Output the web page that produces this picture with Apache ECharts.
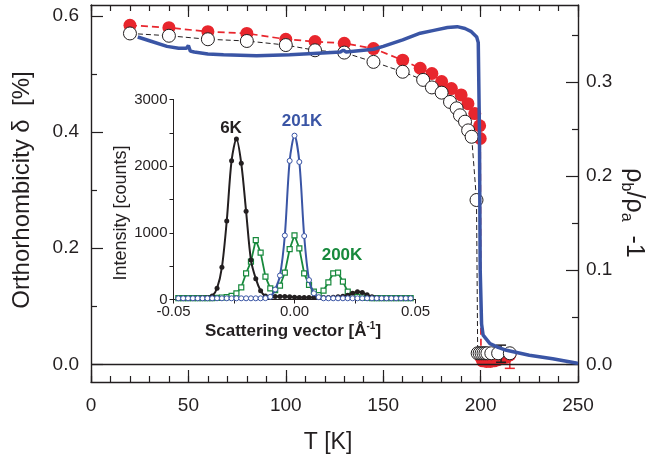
<!DOCTYPE html>
<html lang="en">
<head>
    <meta charset="UTF-8">
    <title>Orthorhombicity and resistivity anisotropy</title>
    <script src="https://cdn.jsdelivr.net/npm/echarts@6/dist/echarts.min.js"></script>
</head>
<body style="margin:0">
<div id="main" style="width:660px;height:459px;"></div>
<script>
    // main panel, left axis: orthorhombicity delta [%]
    var redT = [20, 40, 60, 80, 100, 115, 130, 145, 160, 169, 175, 180, 185, 190, 193.5, 197, 199.5, 199.8, 200.2, 201, 203, 205, 207, 209, 211, 213, 215];
    var redD = [0.584, 0.580, 0.573, 0.570, 0.560, 0.556, 0.553, 0.544, 0.524, 0.510, 0.501, 0.487, 0.475, 0.464, 0.449, 0.432, 0.411, 0.389, 0.012, 0.006, 0.005, 0.005, 0.006, 0.008, 0.010, 0.012, 0.016];
    var whiteT = [20, 40, 60, 80, 100, 115, 130, 145, 160, 170.5, 175, 180, 184.3, 187.7, 189.4, 192, 193.6, 195.4, 197.9, 198.5, 199.5, 200.5, 201.5, 202.5, 203.5, 205.5, 209, 215];
    var whiteD = [0.570, 0.566, 0.560, 0.557, 0.550, 0.541, 0.537, 0.521, 0.504, 0.490, 0.477, 0.468, 0.452, 0.441, 0.429, 0.418, 0.403, 0.392, 0.283, 0.019, 0.019, 0.019, 0.019, 0.019, 0.019, 0.019, 0.019, 0.019];
    // error bars near T ~ 210 K: [T, low, high]
    var whiteErr = [[210.5, 0.0035, 0.033]];
    var redErr = [[215, -0.007, 0.016]];
    // main panel, right axis: rho_b/rho_a - 1
    var blueT = [24, 30, 39, 45, 49, 50, 51, 53, 60, 68, 85, 102, 119, 128, 129.5, 131, 145, 150, 160, 169, 176, 183, 188, 192, 195, 198, 198.8, 199.4, 199.8, 200.5, 201.3, 204.8, 209, 213.3, 225, 237, 249, 250];
    var blueR = [0.348, 0.344, 0.338, 0.336, 0.336, 0.339, 0.333, 0.332, 0.330, 0.329, 0.328, 0.329, 0.331, 0.332, 0.334, 0.332, 0.335, 0.338, 0.345, 0.352, 0.355, 0.358, 0.359, 0.357, 0.354, 0.348, 0.342, 0.25, 0.10, 0.043, 0.031, 0.022, 0.018, 0.0149, 0.0096, 0.006, 0.0014, 0.001];

    // inset: scattering vector [1/A] vs intensity [counts]
    var q = [-0.048, -0.046, -0.044, -0.042, -0.040, -0.038, -0.036, -0.034, -0.032, -0.030,
        -0.028, -0.026, -0.024, -0.022, -0.020, -0.018, -0.016, -0.014, -0.012, -0.010,
        -0.008, -0.006, -0.004, -0.002, 0.000, 0.002, 0.004, 0.006, 0.008, 0.010,
        0.012, 0.014, 0.016, 0.018, 0.020, 0.022, 0.024, 0.026, 0.028, 0.030,
        0.032, 0.034, 0.036, 0.038, 0.040, 0.042, 0.044, 0.046, 0.048];
    var i6K = [20, 20, 20, 20, 22, 25, 30, 52, 168, 482,
        1177, 2082, 2408, 2043, 1322, 592, 313, 132, 52, 40,
        45, 45, 45, 40, 35, 30, 30, 30, 30, 30,
        30, 30, 35, 40, 50, 65, 95, 115, 105, 70,
        40, 25, 20, 20, 20, 20, 20, 20, 20];
    var i201K = [18, 18, 18, 18, 18, 18, 18, 18, 18, 18,
        18, 18, 18, 18, 18, 18, 18, 18, 20, 40,
        150, 360, 960, 2080, 2458, 2063, 952, 292, 93, 35,
        18, 18, 18, 18, 18, 18, 18, 18, 18, 18,
        18, 18, 18, 18, 18, 18, 18, 18, 18];
    var i200K = [20, 20, 20, 20, 20, 20, 20, 20, 25, 30,
        35, 55, 93, 183, 393, 568, 892, 703, 343, 168,
        140, 207, 402, 757, 963, 768, 393, 218, 117, 67,
        132, 258, 393, 402, 267, 117, 67, 40, 30, 25,
        20, 20, 20, 20, 20, 20, 20, 20, 20];

    var ink = '#231f20';
    var red = '#e8262d';
    var blue = '#3a55a5';
    var green = '#17893c';
    var font = '"Liberation Sans", Arial, sans-serif';

    function zip(xs, ys) {
        return xs.map(function (x, i) { return [x, ys[i]]; });
    }

    function tick(len, inside, values) {
        var t = {show: true, inside: inside, length: len, lineStyle: {color: ink, width: 1.2}};
        if (values) t.customValues = values;
        return t;
    }

    // vertical bar with short caps, drawn from [T, low, high]
    function errBar(color) {
        return function (params, api) {
            var lo = api.coord([api.value(0), api.value(1)]);
            var hi = api.coord([api.value(0), api.value(2)]);
            var st = {stroke: color, lineWidth: 1.5};
            return {
                type: 'group',
                children: [
                    {type: 'line', shape: {x1: lo[0], y1: lo[1], x2: hi[0], y2: hi[1]}, style: st},
                    {type: 'line', shape: {x1: lo[0] - 5, y1: lo[1], x2: lo[0] + 5, y2: lo[1]}, style: st},
                    {type: 'line', shape: {x1: hi[0] - 5, y1: hi[1], x2: hi[0] + 5, y2: hi[1]}, style: st}
                ]
            };
        };
    }

    var lbl = {color: ink, fontSize: 19, fontFamily: font};
    var noLine = {show: false, onZero: false};
    var frame = {show: true, onZero: false, lineStyle: {color: ink, width: 1.4}};
    var thin = {show: true, onZero: false, lineStyle: {color: ink, width: 1}};

    var myChart = echarts.init(document.getElementById('main'), null, {renderer: 'canvas'});

    var option = {
        backgroundColor: '#fff',
        animation: false,
        grid: [
            {left: 91, right: 82, top: 5, bottom: 77},
            {left: 173.5, top: 99.5, width: 242, height: 200}
        ],
        xAxis: [
            {gridIndex: 0, type: 'value', position: 'bottom', min: 0, max: 250, interval: 50,
                axisLine: frame, axisTick: tick(12, true),
                axisLabel: Object.assign({margin: 14}, lbl), splitLine: noLine},
            {gridIndex: 0, type: 'value', position: 'bottom', min: 0, max: 250, interval: 10,
                axisLine: noLine, axisTick: tick(6, true), axisLabel: noLine, splitLine: noLine},
            {gridIndex: 0, type: 'value', position: 'top', min: 0, max: 250, interval: 50,
                axisLine: frame, axisTick: tick(12, true), axisLabel: noLine, splitLine: noLine},
            {gridIndex: 0, type: 'value', position: 'top', min: 0, max: 250, interval: 10,
                axisLine: noLine, axisTick: tick(6, true), axisLabel: noLine, splitLine: noLine},
            {gridIndex: 1, type: 'value', position: 'bottom', min: -0.05, max: 0.05, interval: 0.025,
                axisLine: thin,
                axisTick: {show: true, inside: false, length: 4, lineStyle: {color: ink, width: 1}},
                axisLabel: {color: ink, fontSize: 15, fontFamily: font, margin: 5,
                    formatter: function (v) {
                        return Math.abs(v * 20 - Math.round(v * 20)) < 1e-6 ? v.toFixed(2) : '';
                    }},
                splitLine: noLine}
        ],
        yAxis: [
            {gridIndex: 0, type: 'value', position: 'left', min: -0.0305, max: 0.619,
                axisLine: frame, axisTick: tick(12, true, [0, 0.2, 0.4, 0.6]),
                axisLabel: Object.assign({margin: 12, customValues: [0, 0.2, 0.4, 0.6],
                    formatter: function (v) { return v.toFixed(1); }}, lbl),
                splitLine: noLine},
            {gridIndex: 0, type: 'value', position: 'left', min: -0.0305, max: 0.619,
                axisLine: noLine, axisTick: tick(6, true, [0.1, 0.3, 0.5]),
                axisLabel: noLine, splitLine: noLine},
            {gridIndex: 0, type: 'value', position: 'right', min: -0.0188, max: 0.382,
                axisLine: frame, axisTick: tick(12, true, [0, 0.1, 0.2, 0.3]),
                axisLabel: Object.assign({margin: 8, customValues: [0, 0.1, 0.2, 0.3],
                    formatter: function (v) { return v.toFixed(1); }}, lbl),
                splitLine: noLine},
            {gridIndex: 0, type: 'value', position: 'right', min: -0.0188, max: 0.382,
                axisLine: noLine, axisTick: tick(6, true, [0.05, 0.15, 0.25, 0.35]),
                axisLabel: noLine, splitLine: noLine},
            {gridIndex: 1, type: 'value', position: 'left', min: 0, max: 3000, interval: 500,
                axisLine: thin,
                axisTick: {show: true, inside: false, length: 4, lineStyle: {color: ink, width: 1}},
                axisLabel: {color: ink, fontSize: 15, fontFamily: font, margin: 6,
                    formatter: function (v) { return v % 1000 === 0 ? String(v) : ''; }},
                splitLine: noLine}
        ],
        graphic: [
            {type: 'text', x: 22, y: 190, rotation: Math.PI / 2,
                style: {text: 'Orthorhombicity δ  [%]', fontSize: 24, fontFamily: font, fill: ink,
                    align: 'center', verticalAlign: 'middle'}},
            {type: 'text', x: 634, y: 213, rotation: -Math.PI / 2,
                style: {text: '{r|ρ}{s|b}{r|/ρ}{s|a}{r|  -1}', fill: ink, align: 'center', verticalAlign: 'middle',
                    rich: {
                        r: {fontSize: 25, fontFamily: font, fill: ink, lineHeight: 32},
                        s: {fontSize: 16, fontFamily: font, fill: ink, lineHeight: 16, verticalAlign: 'bottom'}
                    }}},
            {type: 'text', x: 328, y: 443,
                style: {text: 'T [K]', fontSize: 23, fontFamily: font, fill: ink, align: 'center', verticalAlign: 'middle'}},
            {type: 'text', x: 121, y: 213, rotation: Math.PI / 2,
                style: {text: 'Intensity [counts]', fontSize: 18, fontFamily: font, fill: ink,
                    align: 'center', verticalAlign: 'middle'}},
            {type: 'text', x: 293, y: 331,
                style: {text: '{b|Scattering vector [Å}{p|-1}{b|]}', align: 'center', verticalAlign: 'middle',
                    rich: {
                        b: {fontSize: 17, fontWeight: 'bold', fontFamily: font, fill: ink, lineHeight: 20},
                        p: {fontSize: 10, fontWeight: 'bold', fontFamily: font, fill: ink, lineHeight: 11, verticalAlign: 'top'}
                    }}},
            {type: 'text', x: 231, y: 128,
                style: {text: '6K', fontSize: 17, fontWeight: 'bold', fontFamily: font, fill: ink, align: 'center', verticalAlign: 'middle'}},
            {type: 'text', x: 302, y: 121,
                style: {text: '201K', fontSize: 17, fontWeight: 'bold', fontFamily: font, fill: blue, align: 'center', verticalAlign: 'middle'}},
            {type: 'text', x: 342, y: 255,
                style: {text: '200K', fontSize: 17, fontWeight: 'bold', fontFamily: font, fill: green, align: 'center', verticalAlign: 'middle'}}
        ],
        series: [
            {
                name: 'delta (filled)', type: 'line', xAxisIndex: 0, yAxisIndex: 0,
                data: zip(redT, redD),
                symbol: 'circle', symbolSize: 13,
                itemStyle: {color: red},
                lineStyle: {color: red, width: 1.7, type: [7, 4]},
                markLine: {
                    silent: true, symbol: 'none', label: {show: false},
                    lineStyle: {color: ink, width: 1.3, type: 'solid'},
                    data: [{yAxis: 0}]
                },
                z: 3
            },
            {
                name: 'delta error (filled)', type: 'custom', xAxisIndex: 0, yAxisIndex: 0,
                data: redErr, renderItem: errBar(red), z: 3
            },
            {
                name: 'delta error (open)', type: 'custom', xAxisIndex: 0, yAxisIndex: 0,
                data: whiteErr, renderItem: errBar(ink), z: 4
            },
            {
                name: 'delta (open)', type: 'line', xAxisIndex: 0, yAxisIndex: 0,
                data: zip(whiteT, whiteD),
                symbol: 'circle', symbolSize: 13,
                itemStyle: {color: '#fff', borderColor: ink, borderWidth: 1},
                lineStyle: {color: ink, width: 1, type: [5, 3]},
                z: 4
            },
            {
                name: 'rho_b/rho_a - 1', type: 'line', xAxisIndex: 0, yAxisIndex: 2,
                data: zip(blueT, blueR),
                showSymbol: false, symbol: 'none',
                lineStyle: {color: blue, width: 3.5},
                z: 5
            },
            {
                name: '200K', type: 'line', xAxisIndex: 4, yAxisIndex: 4,
                data: zip(q, i200K),
                symbol: 'rect', symbolSize: 5,
                itemStyle: {color: '#fff', borderColor: green, borderWidth: 1.2},
                lineStyle: {color: green, width: 1.8},
                z: 6
            },
            {
                name: '6K', type: 'line', xAxisIndex: 4, yAxisIndex: 4,
                data: zip(q, i6K), smooth: 0.3,
                symbol: 'circle', symbolSize: 5,
                itemStyle: {color: ink},
                lineStyle: {color: ink, width: 2},
                z: 7
            },
            {
                name: '201K', type: 'line', xAxisIndex: 4, yAxisIndex: 4,
                data: zip(q, i201K), smooth: 0.3,
                symbol: 'circle', symbolSize: 5,
                itemStyle: {color: '#fff', borderColor: blue, borderWidth: 1},
                lineStyle: {color: blue, width: 2},
                z: 8
            }
        ]
    };
    myChart.setOption(option);
</script>
</body>
</html>
